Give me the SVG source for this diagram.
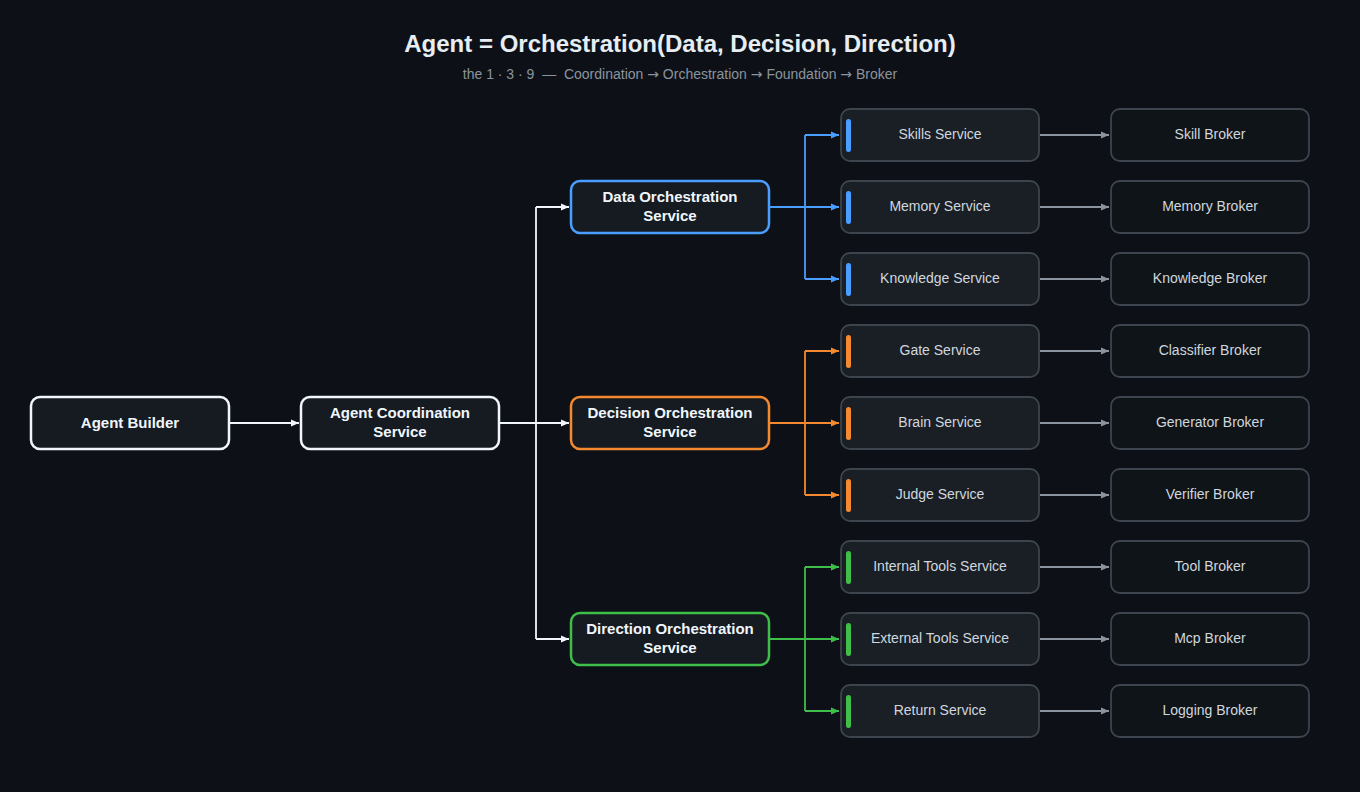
<svg xmlns="http://www.w3.org/2000/svg" width="1360" height="792" viewBox="0 0 1360 792">
<defs>
<style>
.t{font-family:"Liberation Sans",Arial,sans-serif}
.title{font-size:24px;font-weight:bold;fill:#e6edf3}
.sub{font-size:14px;fill:#8b949e;white-space:pre}
.ar{font-family:"DejaVu Sans",sans-serif}
.bold{font-size:15px;font-weight:bold;fill:#f0f6fc}
.svc{font-size:14px;fill:#d0d7de}
.n-main{fill:#161b22;stroke:#f0f6fc;stroke-width:2.5}
.n-orch{fill:#161b22;stroke-width:2.5}
.n-svc{fill:#1a1f26;stroke:#3d444d;stroke-width:1.8}
.n-brk{fill:#0f1419;stroke:#3d444d;stroke-width:1.8}
.c{fill:none;stroke-width:1.8}
</style>
<marker id="aw" markerUnits="userSpaceOnUse" markerWidth="9" markerHeight="8" refX="8" refY="4" orient="auto"><path d="M0,0.5 L8,4 L0,7.5 z" fill="#f0f6fc"/></marker>
<marker id="ab" markerUnits="userSpaceOnUse" markerWidth="9" markerHeight="8" refX="8" refY="4" orient="auto"><path d="M0,0.5 L8,4 L0,7.5 z" fill="#4a9eff"/></marker>
<marker id="ao" markerUnits="userSpaceOnUse" markerWidth="9" markerHeight="8" refX="8" refY="4" orient="auto"><path d="M0,0.5 L8,4 L0,7.5 z" fill="#f5892f"/></marker>
<marker id="ag" markerUnits="userSpaceOnUse" markerWidth="9" markerHeight="8" refX="8" refY="4" orient="auto"><path d="M0,0.5 L8,4 L0,7.5 z" fill="#3fbf4a"/></marker>
<marker id="ay" markerUnits="userSpaceOnUse" markerWidth="9" markerHeight="8" refX="8" refY="4" orient="auto"><path d="M0,0.5 L8,4 L0,7.5 z" fill="#8b949e"/></marker>
</defs>
<rect width="1360" height="792" fill="#0d1117"/>
<text class="t title" x="680" y="52" text-anchor="middle">Agent = Orchestration(Data, Decision, Direction)</text>
<text class="t sub" x="680" y="79" text-anchor="middle" xml:space="preserve">the 1 · 3 · 9  —  Coordination <tspan class="ar">→</tspan> Orchestration <tspan class="ar">→</tspan> Foundation <tspan class="ar">→</tspan> Broker</text>

<g id="connectors">
<path class="c" stroke="#f0f6fc" stroke-width="2.5" d="M230,423 H299" marker-end="url(#aw)"/>
<path class="c" stroke="#f0f6fc" d="M499,423 H569" marker-end="url(#aw)"/>
<path class="c" stroke="#f0f6fc" d="M536,207 V639"/>
<path class="c" stroke="#f0f6fc" d="M536,207 H569" marker-end="url(#aw)"/>
<path class="c" stroke="#f0f6fc" d="M536,639 H569" marker-end="url(#aw)"/>

<path class="c" stroke="#4a9eff" d="M769,207 H839" marker-end="url(#ab)"/>
<path class="c" stroke="#4a9eff" d="M805,135 V279"/>
<path class="c" stroke="#4a9eff" d="M805,135 H839" marker-end="url(#ab)"/>
<path class="c" stroke="#4a9eff" d="M805,279 H839" marker-end="url(#ab)"/>

<path class="c" stroke="#f5892f" d="M769,423 H839" marker-end="url(#ao)"/>
<path class="c" stroke="#f5892f" d="M805,351 V495"/>
<path class="c" stroke="#f5892f" d="M805,351 H839" marker-end="url(#ao)"/>
<path class="c" stroke="#f5892f" d="M805,495 H839" marker-end="url(#ao)"/>

<path class="c" stroke="#3fbf4a" d="M769,639 H839" marker-end="url(#ag)"/>
<path class="c" stroke="#3fbf4a" d="M805,567 V711"/>
<path class="c" stroke="#3fbf4a" d="M805,567 H839" marker-end="url(#ag)"/>
<path class="c" stroke="#3fbf4a" d="M805,711 H839" marker-end="url(#ag)"/>

<g stroke="#8b949e">
<path class="c" d="M1040,135 H1109" marker-end="url(#ay)"/>
<path class="c" d="M1040,207 H1109" marker-end="url(#ay)"/>
<path class="c" d="M1040,279 H1109" marker-end="url(#ay)"/>
<path class="c" d="M1040,351 H1109" marker-end="url(#ay)"/>
<path class="c" d="M1040,423 H1109" marker-end="url(#ay)"/>
<path class="c" d="M1040,495 H1109" marker-end="url(#ay)"/>
<path class="c" d="M1040,567 H1109" marker-end="url(#ay)"/>
<path class="c" d="M1040,639 H1109" marker-end="url(#ay)"/>
<path class="c" d="M1040,711 H1109" marker-end="url(#ay)"/>
</g>
</g>

<g id="agent-builder"><rect class="n-main" x="31" y="397" width="198" height="52" rx="9"/><text class="t bold" x="130" y="428" text-anchor="middle">Agent Builder</text></g>
<g id="agent-coordination"><rect class="n-main" x="301" y="397" width="198" height="52" rx="9"/><text class="t bold" x="400" y="418" text-anchor="middle">Agent Coordination</text><text class="t bold" x="400" y="437" text-anchor="middle">Service</text></g>

<g id="data-orch"><rect class="n-orch" stroke="#4a9eff" x="571" y="181" width="198" height="52" rx="9"/><text class="t bold" x="670" y="202" text-anchor="middle">Data Orchestration</text><text class="t bold" x="670" y="221" text-anchor="middle">Service</text></g>
<g id="decision-orch"><rect class="n-orch" stroke="#f5892f" x="571" y="397" width="198" height="52" rx="9"/><text class="t bold" x="670" y="418" text-anchor="middle">Decision Orchestration</text><text class="t bold" x="670" y="437" text-anchor="middle">Service</text></g>
<g id="direction-orch"><rect class="n-orch" stroke="#3fbf4a" x="571" y="613" width="198" height="52" rx="9"/><text class="t bold" x="670" y="634" text-anchor="middle">Direction Orchestration</text><text class="t bold" x="670" y="653" text-anchor="middle">Service</text></g>

<g id="skills-service"><rect class="n-svc" x="841" y="109" width="198" height="52" rx="9"/><rect x="846" y="119" width="5" height="33" rx="2.5" fill="#4a9eff"/><text class="t svc" x="940" y="139" text-anchor="middle">Skills Service</text></g>
<g id="memory-service"><rect class="n-svc" x="841" y="181" width="198" height="52" rx="9"/><rect x="846" y="191" width="5" height="33" rx="2.5" fill="#4a9eff"/><text class="t svc" x="940" y="211" text-anchor="middle">Memory Service</text></g>
<g id="knowledge-service"><rect class="n-svc" x="841" y="253" width="198" height="52" rx="9"/><rect x="846" y="263" width="5" height="33" rx="2.5" fill="#4a9eff"/><text class="t svc" x="940" y="283" text-anchor="middle">Knowledge Service</text></g>
<g id="gate-service"><rect class="n-svc" x="841" y="325" width="198" height="52" rx="9"/><rect x="846" y="335" width="5" height="33" rx="2.5" fill="#f5892f"/><text class="t svc" x="940" y="355" text-anchor="middle">Gate Service</text></g>
<g id="brain-service"><rect class="n-svc" x="841" y="397" width="198" height="52" rx="9"/><rect x="846" y="407" width="5" height="33" rx="2.5" fill="#f5892f"/><text class="t svc" x="940" y="427" text-anchor="middle">Brain Service</text></g>
<g id="judge-service"><rect class="n-svc" x="841" y="469" width="198" height="52" rx="9"/><rect x="846" y="479" width="5" height="33" rx="2.5" fill="#f5892f"/><text class="t svc" x="940" y="499" text-anchor="middle">Judge Service</text></g>
<g id="internal-tools-service"><rect class="n-svc" x="841" y="541" width="198" height="52" rx="9"/><rect x="846" y="551" width="5" height="33" rx="2.5" fill="#3fbf4a"/><text class="t svc" x="940" y="571" text-anchor="middle">Internal Tools Service</text></g>
<g id="external-tools-service"><rect class="n-svc" x="841" y="613" width="198" height="52" rx="9"/><rect x="846" y="623" width="5" height="33" rx="2.5" fill="#3fbf4a"/><text class="t svc" x="940" y="643" text-anchor="middle">External Tools Service</text></g>
<g id="return-service"><rect class="n-svc" x="841" y="685" width="198" height="52" rx="9"/><rect x="846" y="695" width="5" height="33" rx="2.5" fill="#3fbf4a"/><text class="t svc" x="940" y="715" text-anchor="middle">Return Service</text></g>

<g id="skill-broker"><rect class="n-brk" x="1111" y="109" width="198" height="52" rx="9"/><text class="t svc" x="1210" y="139" text-anchor="middle">Skill Broker</text></g>
<g id="memory-broker"><rect class="n-brk" x="1111" y="181" width="198" height="52" rx="9"/><text class="t svc" x="1210" y="211" text-anchor="middle">Memory Broker</text></g>
<g id="knowledge-broker"><rect class="n-brk" x="1111" y="253" width="198" height="52" rx="9"/><text class="t svc" x="1210" y="283" text-anchor="middle">Knowledge Broker</text></g>
<g id="classifier-broker"><rect class="n-brk" x="1111" y="325" width="198" height="52" rx="9"/><text class="t svc" x="1210" y="355" text-anchor="middle">Classifier Broker</text></g>
<g id="generator-broker"><rect class="n-brk" x="1111" y="397" width="198" height="52" rx="9"/><text class="t svc" x="1210" y="427" text-anchor="middle">Generator Broker</text></g>
<g id="verifier-broker"><rect class="n-brk" x="1111" y="469" width="198" height="52" rx="9"/><text class="t svc" x="1210" y="499" text-anchor="middle">Verifier Broker</text></g>
<g id="tool-broker"><rect class="n-brk" x="1111" y="541" width="198" height="52" rx="9"/><text class="t svc" x="1210" y="571" text-anchor="middle">Tool Broker</text></g>
<g id="mcp-broker"><rect class="n-brk" x="1111" y="613" width="198" height="52" rx="9"/><text class="t svc" x="1210" y="643" text-anchor="middle">Mcp Broker</text></g>
<g id="logging-broker"><rect class="n-brk" x="1111" y="685" width="198" height="52" rx="9"/><text class="t svc" x="1210" y="715" text-anchor="middle">Logging Broker</text></g>
</svg>
